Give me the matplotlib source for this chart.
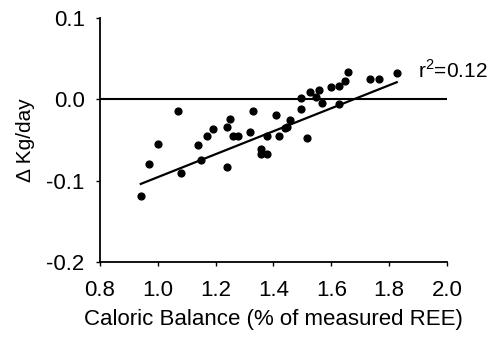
import matplotlib
matplotlib.use("Agg")
import matplotlib.pyplot as plt

# Caloric balance (fraction of measured REE) vs weight change (kg/day)
caloric_balance = [0.941, 0.970, 0.999, 1.070, 1.080, 1.139, 1.149, 1.170, 1.191,
                   1.239, 1.239, 1.250, 1.259, 1.278, 1.319, 1.328, 1.358, 1.358,
                   1.377, 1.377, 1.407, 1.418, 1.439, 1.448, 1.457, 1.496, 1.496,
                   1.517, 1.526, 1.547, 1.556, 1.568, 1.598, 1.627, 1.627, 1.646,
                   1.658, 1.735, 1.766, 1.826]
weight_change = [-0.119, -0.080, -0.055, -0.014, -0.091, -0.056, -0.074, -0.045, -0.036,
                 -0.034, -0.083, -0.024, -0.045, -0.045, -0.040, -0.014, -0.061, -0.067,
                 -0.067, -0.045, -0.019, -0.045, -0.035, -0.034, -0.026, 0.002, -0.012,
                 -0.048, 0.009, 0.003, 0.012, -0.005, 0.015, 0.017, -0.006, 0.023,
                 0.033, 0.025, 0.025, 0.032]

# regression line end points
fit_x = [0.941, 1.826]
fit_y = [-0.104, 0.021]
r2_label = r"r$^{\mathrm{2}}$=0.12"

plt.rcParams['font.family'] = ['Liberation Sans', 'DejaVu Sans']
plt.rcParams['mathtext.fontset'] = 'custom'
plt.rcParams['mathtext.rm'] = 'Liberation Sans'

fig = plt.figure(figsize=(5.02, 3.41), dpi=100)
ax = fig.add_axes([100/502, 1 - 262/341, 347/502, 244/341])

ax.axhline(0, xmin=0, xmax=1, color='black', lw=1.5)
ax.plot(fit_x, fit_y, color='black', lw=1.6)
ax.scatter(caloric_balance, weight_change, s=24, color='black', zorder=3)

ax.set_xlim(0.8, 2.0)
ax.set_ylim(-0.2, 0.1)
ax.set_xticks([0.8, 1.0, 1.2, 1.4, 1.6, 1.8, 2.0])
ax.set_yticks([-0.2, -0.1, 0.0, 0.1])
ax.set_yticklabels(['-0.2', '-0.1', '0.0', '0.1'])

for s in ['top', 'right']:
    ax.spines[s].set_visible(False)
for s in ['left', 'bottom']:
    ax.spines[s].set_linewidth(1.3)
ax.tick_params(direction='out', length=3, width=1, labelsize=16)
ax.tick_params(axis='x', pad=10)
ax.tick_params(axis='y', pad=8)

ax.set_xlabel('Caloric Balance (% of measured REE)', fontsize=16, labelpad=6)
ax.set_ylabel('Δ Kg/day', fontsize=15, labelpad=8)

ax.text(1.9, 0.026, r2_label, fontsize=15, ha='left', va='baseline')

fig.savefig('out.png', dpi=100)
